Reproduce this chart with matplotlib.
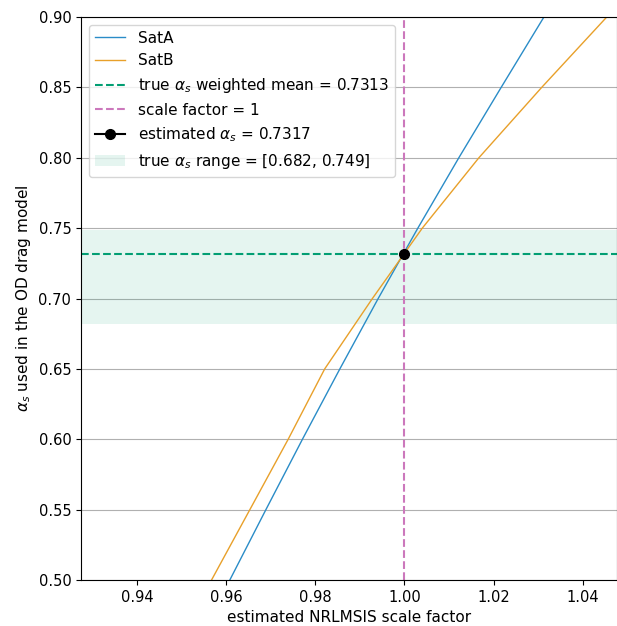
import matplotlib
matplotlib.use("Agg")
import matplotlib.pyplot as plt
import numpy as np

# alpha_s values used in the OD drag model and the scale factor estimated for each
alphas = [0.50, 0.55, 0.60, 0.65, 0.70, 0.75, 0.80, 0.85, 0.90]
scale_sat_a = [0.9608, 0.9689, 0.9771, 0.9855, 0.9941, 1.0030, 1.0122, 1.0217, 1.0313]
scale_sat_b = [0.9567, 0.9653, 0.9739, 0.9821, 0.9928, 1.0040, 1.0167, 1.0308, 1.0454]

true_mean = 0.7313
true_range = [0.682, 0.749]
estimated = 0.7317

green = "#029e73"
pink = "#cc78bc"

fig = plt.figure(figsize=(6.17, 6.26), dpi=100)
ax = fig.add_axes([0.1313, 0.0735, 0.8687, 0.8993])

ax.plot(scale_sat_a, alphas, color="#2a8cc7", lw=1, label="SatA")
ax.plot(scale_sat_b, alphas, color="#e8a02a", lw=1, label="SatB")
ax.axhline(true_mean, color=green, ls="--", lw=1.5,
           label=r"true $\alpha_s$ weighted mean = %.4f" % true_mean)
ax.axvline(1.0, color=pink, ls="--", lw=1.5, label="scale factor = 1")
ax.plot([1.0], [estimated], "-o", color="black", ms=7,
        label=r"estimated $\alpha_s$ = %.4f" % estimated)
ax.axhspan(true_range[0], true_range[1], color=green, alpha=0.1, lw=0,
           label=r"true $\alpha_s$ range = [%.3f, %.3f]" % (true_range[0], true_range[1]))

ax.set_xlim(0.9274, 1.0477)
ax.set_ylim(0.5, 0.9)
ax.set_xticks([0.94, 0.96, 0.98, 1.00, 1.02, 1.04])
ax.set_yticks(np.arange(0.5, 0.901, 0.05))
ax.tick_params(labelsize=10.5)
ax.grid(axis="y", color="#b0b0b0")
ax.set_axisbelow(True)
ax.set_xlabel("estimated NRLMSIS scale factor", fontsize=11)
ax.set_ylabel(r"$\alpha_s$ used in the OD drag model", fontsize=11)
ax.legend(loc="upper left", fontsize=11)

fig.savefig("out.png", dpi=100)
